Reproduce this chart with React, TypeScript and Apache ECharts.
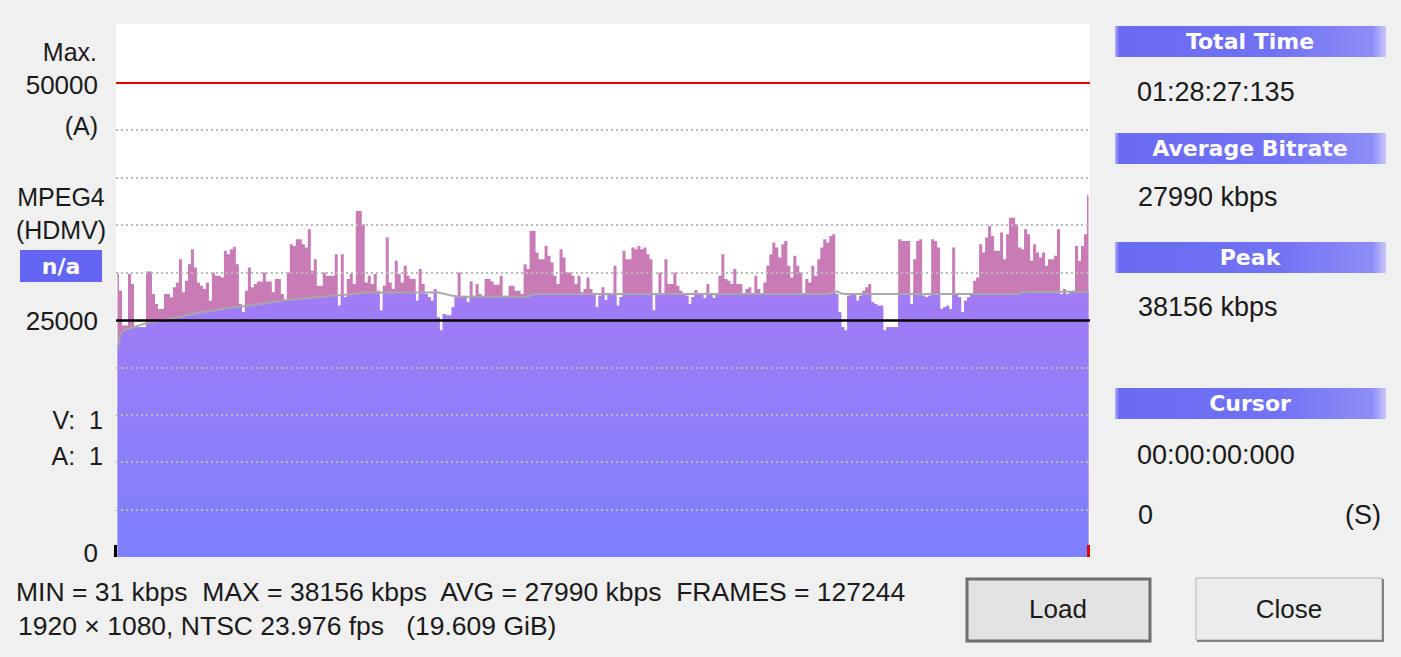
import React, { useEffect, useRef } from "react";
import * as echarts from "echarts";

// Bitrate per time bin (kbps) (325 bins over 01:28:27)
const bitrate: number[] = [
  29830, 28080, 24405, 24405, 29830, 28780, 24230, 24230, 24230, 24230,
  30110, 30110, 27730, 26680, 26155, 26155, 27730, 27730, 27380, 28430,
  28955, 31405, 27905, 29130, 30880, 32455, 30530, 28955, 28605, 28255,
  28955, 27030, 30005, 29655, 29655, 29480, 32280, 31930, 32455, 32700,
  30880, 26680, 25805, 28080, 30530, 28430, 28780, 29060, 29060, 30005,
  29060, 29060, 27905, 29305, 29305, 27730, 27030, 30005, 32980, 32805,
  33505, 33505, 32980, 32630, 34555, 30180, 31405, 28605, 28605, 30005,
  29655, 29655, 29655, 31930, 26505, 31930, 27380, 29305, 29830, 28780,
  36480, 36480, 35080, 28955, 29655, 28780, 29830, 28080, 25980, 28605,
  33680, 28955, 28255, 31230, 29830, 28955, 30705, 29655, 29305, 29305,
  27030, 30355, 28780, 27730, 27380, 27030, 28255, 25280, 23880, 25630,
  25455, 25455, 26330, 27380, 30005, 27555, 27555, 26855, 29060, 27555,
  28780, 27730, 27555, 29305, 29305, 29060, 28710, 28710, 29655, 27555,
  27555, 28605, 28605, 28080, 28080, 27730, 30880, 30355, 34380, 34380,
  32105, 31405, 31405, 32805, 31755, 31055, 29655, 28780, 32455, 31580,
  30005, 30005, 29655, 28780, 29655, 27905, 28255, 29480, 28255, 27730,
  26330, 27555, 28430, 27100, 27730, 27730, 30705, 26505, 27380, 32280,
  31405, 31405, 32630, 32455, 32805, 32455, 32630, 31930, 31405, 25980,
  27730, 30005, 27730, 31405, 28780, 28780, 30005, 28605, 28080, 27730,
  27555, 26680, 27380, 28150, 27730, 27730, 27310, 28780, 27730, 27310,
  27730, 29655, 31930, 29305, 29130, 28780, 30355, 28780, 28780, 27730,
  28255, 28430, 27730, 29655, 28255, 27730, 28955, 30705, 31930, 33155,
  32630, 31580, 32980, 33330, 30705, 29480, 31755, 30705, 30005, 27730,
  29305, 28955, 30705, 29655, 31405, 32630, 33505, 33155, 33855, 34030,
  27730, 25805, 24230, 23880, 27555, 27730, 27730, 27030, 27555, 28080,
  28430, 28780, 26855, 26680, 26505, 26505, 23880, 24230, 24230, 24230,
  24230, 33505, 33330, 33330, 33330, 26680, 31405, 33330, 33505, 27555,
  27380, 27555, 33505, 33330, 32630, 26155, 26330, 26505, 26155, 32630,
  27730, 27380, 25805, 27030, 27380, 27730, 29130, 29480, 32980, 32105,
  33680, 34905, 33855, 32280, 32280, 34205, 31405, 34030, 35780, 35780,
  35080, 32630, 32455, 34555, 34030, 31230, 32980, 32105, 31580, 32105,
  30705, 31405, 31405, 31755, 34555, 27730, 28255, 27730, 27905, 28080,
  32805, 31230, 32805, 34030, 38156,
];

// Running average (grey line), kbps per bin
const average: number[] = [
  22000, 23500, 23900, 24000, 24100, 24200, 24300, 24400, 24500, 24600,
  24700, 24750, 24800, 24850, 24900, 24950, 25000, 25050, 25120, 25200,
  25270, 25340, 25410, 25480, 25550, 25620, 25680, 25740, 25800, 25850,
  25900, 25950, 26000, 26050, 26100, 26150, 26200, 26250, 26290, 26330,
  26370, 26410, 26450, 26490, 26530, 26570, 26610, 26650, 26700, 26750,
  26800, 26850, 26900, 26950, 27000, 27040, 27080, 27110, 27140, 27170,
  27200, 27230, 27260, 27290, 27320, 27350, 27380, 27410, 27440, 27470,
  27500, 27530, 27560, 27580, 27600, 27620, 27640, 27660, 27700, 27740,
  27780, 27820, 27900, 27900, 27900, 27900, 27900, 27900, 27900, 27900,
  27900, 27900, 27900, 27900, 27900, 27900, 27900, 27900, 27900, 27900,
  27900, 27900, 27900, 27900, 27900, 27900, 27900, 27880, 27820, 27750,
  27680, 27610, 27550, 27500, 27460, 27450, 27450, 27450, 27450, 27450,
  27450, 27450, 27450, 27450, 27450, 27450, 27450, 27450, 27450, 27450,
  27450, 27450, 27450, 27450, 27450, 27450, 27450, 27450, 27600, 27730,
  27730, 27730, 27730, 27730, 27730, 27730, 27730, 27730, 27730, 27730,
  27730, 27730, 27730, 27730, 27730, 27730, 27730, 27730, 27730, 27730,
  27730, 27730, 27730, 27730, 27730, 27730, 27730, 27730, 27730, 27730,
  27730, 27730, 27730, 27730, 27730, 27730, 27730, 27730, 27730, 27730,
  27730, 27730, 27730, 27730, 27730, 27730, 27730, 27730, 27730, 27730,
  27730, 27730, 27730, 27730, 27730, 27730, 27730, 27730, 27730, 27730,
  27730, 27730, 27730, 27730, 27730, 27730, 27730, 27730, 27730, 27730,
  27730, 27730, 27730, 27730, 27730, 27730, 27730, 27730, 27730, 27730,
  27730, 27730, 27730, 27730, 27730, 27730, 27730, 27730, 27730, 27730,
  27730, 27730, 27730, 27730, 27730, 27730, 27730, 27730, 27850, 27950,
  28000, 27850, 27760, 27730, 27730, 27730, 27730, 27730, 27730, 27730,
  27730, 27730, 27730, 27730, 27730, 27730, 27730, 27730, 27730, 27730,
  27730, 27730, 27730, 27730, 27730, 27730, 27730, 27730, 27730, 27730,
  27730, 27730, 27730, 27730, 27730, 27730, 27730, 27730, 27730, 27730,
  27730, 27730, 27730, 27730, 27730, 27730, 27730, 27730, 27730, 27730,
  27730, 27730, 27730, 27730, 27730, 27730, 27730, 27730, 27730, 27730,
  27730, 27730, 27980, 27980, 27980, 27980, 27980, 27980, 27980, 27980,
  27980, 27980, 27980, 27980, 27980, 27980, 27980, 27980, 27980, 27980,
  27980, 27980, 27980, 27980, 27980,
];

const gridValues = [5000, 10000, 15000, 20000, 30000, 35000, 40000, 45000];
const refValue = 25000;
const maxValue = 50000;
const yMax = 56200;

const leftLabels = ["Max.", "50000", "(A)", "MPEG4", "(HDMV)", "n/a", "25000", "V:  1", "A:  1", "0"];
const panelHeaders = ["Total Time", "Average Bitrate", "Peak", "Cursor"];
const panelValues = ["01:28:27:135", "27990 kbps", "38156 kbps", "00:00:00:000"];
const cursorValue = "0";
const cursorUnit = "(S)";
const statsLine = "MIN = 31 kbps  MAX = 38156 kbps  AVG = 27990 kbps  FRAMES = 127244";
const infoLine = "1920 \u00d7 1080, NTSC 23.976 fps   (19.609 GiB)";
const buttons = ["Load", "Close"];

const FONT = "'Liberation Sans', Arial, sans-serif";
const BOLD = "'DejaVu Sans', 'Liberation Sans', sans-serif";

export default function App() {
  const ref = useRef<HTMLDivElement>(null);
  useEffect(() => {
    if (!ref.current) return;
    const chart = echarts.init(ref.current, null, { renderer: "svg" });
    const cats = bitrate.map((_, i) => String(i));
    const lower = bitrate.map((v, i) => Math.min(v, average[i]));

    const txt = (text: string, x: number, y: number, align: string, opts: any = {}) => ({
      type: "text",
      x,
      y,
      silent: true,
      z: 100,
      style: {
        text,
        font: opts.font || `26px ${FONT}`,
        fill: opts.fill || "#1a1a1a",
        align,
        verticalAlign: "middle",
      },
    });

    const headerY = [26, 133, 242, 388];
    const valueY = [92, 197, 307, 455];
    const headerGrad = new echarts.graphic.LinearGradient(0, 0, 1, 0, [
      { offset: 0, color: "#b4b4fb" },
      { offset: 0.015, color: "#6a6af3" },
      { offset: 0.6, color: "#7272f4" },
      { offset: 0.95, color: "#8d8df7" },
      { offset: 1, color: "#c8c8fd" },
    ]);
    const f25 = { font: `25px ${FONT}` };
    const f27 = { font: `27px ${FONT}` };
    const f265 = { font: `26.5px ${FONT}` };

    const graphics: any[] = [
      // left labels
      txt(leftLabels[0], 97, 52, "right", f25),
      txt(leftLabels[1], 98, 85, "right"),
      txt(leftLabels[2], 98, 126, "right", f25),
      txt(leftLabels[3], 61, 197, "center", f25),
      txt(leftLabels[4], 61, 230, "center", f25),
      {
        type: "rect",
        shape: { x: 20, y: 250, width: 82, height: 32 },
        style: { fill: "#6565f4" },
        silent: true,
        z: 99,
      },
      txt(leftLabels[5], 61, 266, "center", { font: `bold 22px ${BOLD}`, fill: "#ffffff" }),
      txt(leftLabels[6], 98, 321, "right"),
      txt(leftLabels[7], 103, 420, "right", f25),
      txt(leftLabels[8], 103, 456, "right", f25),
      txt(leftLabels[9], 98, 553, "right"),
      // axis end ticks
      { type: "rect", shape: { x: 114, y: 545, width: 3, height: 12 }, style: { fill: "#000" }, z: 100, silent: true },
      { type: "rect", shape: { x: 1087, y: 545, width: 3, height: 12 }, style: { fill: "#e00000" }, z: 100, silent: true },
      // bottom text
      txt(statsLine, 16, 592, "left", f265),
      txt(infoLine, 18, 626, "left", f265),
      // right panel values
      txt(panelValues[0], 1137, valueY[0], "left", f27),
      txt(panelValues[1], 1138, valueY[1], "left", f27),
      txt(panelValues[2], 1138, valueY[2], "left", f27),
      txt(panelValues[3], 1137, valueY[3], "left", f27),
      txt(cursorValue, 1138, 515, "left", f27),
      txt(cursorUnit, 1381, 515, "right", f27),
      // buttons
      {
        type: "rect",
        shape: { x: 967, y: 579, width: 183, height: 62 },
        style: { fill: "#e3e3e3", stroke: "#6e6e6e", lineWidth: 3 },
        z: 98,
        silent: true,
      },
      txt(buttons[0], 1058, 609, "center"),
      {
        type: "rect",
        shape: { x: 1196, y: 578, width: 186, height: 62 },
        style: { fill: "#ececec", stroke: "#b4b4b4", lineWidth: 1 },
        z: 98,
        silent: true,
      },
      {
        type: "polyline",
        shape: { points: [[1197, 641], [1383, 641], [1383, 579]] },
        style: { stroke: "#808080", lineWidth: 2, fill: "none" },
        z: 99,
        silent: true,
      },
      txt(buttons[1], 1289, 609, "center"),
    ];
    panelHeaders.forEach((h, i) => {
      graphics.push({
        type: "rect",
        shape: { x: 1115, y: headerY[i], width: 271, height: 31 },
        style: { fill: headerGrad },
        z: 98,
        silent: true,
      });
      graphics.push(txt(h, 1250, headerY[i] + 15.5, "center", { font: `bold 22px ${BOLD}`, fill: "#ffffff" }));
    });

    const purpleGrad = new echarts.graphic.LinearGradient(0, 0, 0, 1, [
      { offset: 0, color: "#a27cf6" },
      { offset: 1, color: "#7d80fe" },
    ]);

    chart.setOption({
      animation: false,
      backgroundColor: "#f0f0f0",
      grid: {
        left: 116,
        right: 311,
        top: 24,
        bottom: 100,
        show: true,
        backgroundColor: "#ffffff",
        borderWidth: 0,
      },
      xAxis: { type: "category", data: cats, boundaryGap: true, show: false },
      yAxis: { type: "value", min: 0, max: yMax, show: false, splitLine: { show: false } },
      series: [
        {
          type: "line",
          data: bitrate,
          step: "middle",
          symbol: "none",
          lineStyle: { width: 0, opacity: 0 },
          areaStyle: { color: "#c97bb6", opacity: 1 },
          z: 2,
          silent: true,
        },
        {
          type: "line",
          data: lower,
          step: "middle",
          symbol: "none",
          lineStyle: { width: 0, opacity: 0 },
          areaStyle: { color: purpleGrad, opacity: 1 },
          z: 3,
          silent: true,
        },
        {
          type: "line",
          data: average,
          symbol: "none",
          lineStyle: { color: "#a8a8a8", width: 2 },
          z: 4,
          silent: true,
          markLine: {
            silent: true,
            symbol: "none",
            label: { show: false },
            data: [
              ...gridValues.map((v) => ({
                yAxis: v,
                lineStyle: { type: [2, 3], color: "#b9b9b9", width: 1.8 },
              })),
              { yAxis: refValue, lineStyle: { type: "solid", color: "#000000", width: 2.5 } },
              { yAxis: maxValue, lineStyle: { type: "solid", color: "#e00000", width: 2 } },
            ],
          },
        },
      ],
      graphic: graphics,
    });
    return () => chart.dispose();
  }, []);
  return (
    <div
      ref={ref}
      style={{ position: "fixed", left: 0, top: 0, width: 1401, height: 657, background: "#f0f0f0" }}
    />
  );
}
